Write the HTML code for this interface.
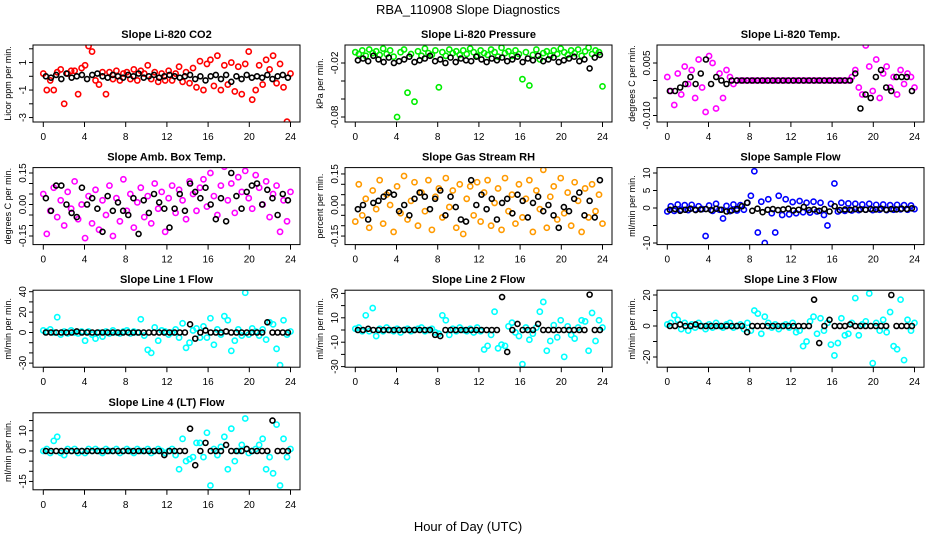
<!DOCTYPE html>
<html><head><meta charset="utf-8"><style>
html,body{margin:0;padding:0;background:#fff}
svg{display:block;font-family:"Liberation Sans",sans-serif}
</style></head><body>
<svg id="chart" width="936" height="540" xmlns="http://www.w3.org/2000/svg">
<rect width="936" height="540" fill="#fff"/>
<text x="468" y="14" font-size="13" text-anchor="middle">RBA_110908  Slope Diagnostics</text>
<text x="468" y="531" font-size="13" text-anchor="middle">Hour of Day (UTC)</text>
</svg>
<script>
const xTicks = [0,4,8,12,16,20,24];
const co2Vals = [0.2,-1.0,-0.3,-1.0,0.3,0.5,-2.0,0.2,0.4,0.4,-1.3,0.6,0.8,2.2,1.8,-0.3,-0.6,0.3,-1.3,0.3,-0.2,0.4,-0.3,0.2,0.3,-0.2,0.5,-0.3,0.4,0.2,0.8,-0.2,0.3,-0.4,0.2,-0.3,0.4,-0.3,0.2,0.7,-0.4,0.3,-0.5,0.6,-0.8,1.1,-1.0,0.9,1.2,-0.7,1.5,-1.0,0.8,-0.6,1.0,-1.1,0.7,-1.3,0.9,1.8,-1.7,-1.0,0.8,-0.6,1.2,0.5,1.5,-0.5,0.9,-0.8,-3.3,0.2];
const co2Black = [0,-0.1,0.1,-0.2,0.2,-0.1,0.0,0.1,-0.2,0.1,0.2,0.0,-0.1,0.1,0.0,-0.1,0.1,0.0,0.2,-0.1,0.0,0.1,-0.1,0.0,0.1,0.0,-0.1,0.0,0.1,-0.2,0.0,-0.3,0.0,0.1,-0.2,0.1,-0.4,0.0,-0.2,0.1,-0.1,0.0,-0.1,0.1,-0.2,0.0,0.1,-0.1];
const presVals = [-0.008,-0.01,-0.006,-0.012,-0.005,-0.009,-0.007,-0.011,-0.004,-0.01,-0.006,-0.013,-0.08,-0.008,-0.005,-0.053,-0.01,-0.063,-0.007,-0.012,-0.004,-0.009,-0.011,-0.006,-0.047,-0.008,-0.012,-0.005,-0.009,-0.007,-0.011,-0.006,-0.01,-0.004,-0.008,-0.012,-0.006,-0.009,-0.011,-0.005,-0.008,-0.013,-0.003,-0.009,-0.007,-0.012,-0.006,-0.01,-0.038,-0.008,-0.045,-0.011,-0.005,-0.016,-0.009,-0.007,-0.012,-0.006,-0.01,-0.004,-0.008,-0.011,-0.006,-0.009,-0.005,-0.012,-0.007,-0.003,-0.01,-0.006,-0.008,-0.046];
const presBlack = [-0.017,-0.015,-0.018,-0.012,-0.016,-0.019,-0.014,-0.02,-0.018,-0.016,-0.013,-0.019,-0.017,-0.015,-0.012,-0.018,-0.016,-0.02,-0.014,-0.019,-0.015,-0.017,-0.018,-0.013,-0.016,-0.019,-0.015,-0.017,-0.014,-0.018,-0.016,-0.013,-0.019,-0.015,-0.017,-0.012,-0.018,-0.016,-0.014,-0.019,-0.017,-0.015,-0.013,-0.018,-0.016,-0.026,-0.014,-0.011];
const tempVals = [0.001,-0.003,-0.007,0.002,-0.004,0.004,-0.001,0.003,-0.005,0.006,-0.002,-0.009,0.007,0.005,-0.008,0.002,-0.005,0.003,0.001,-0.001,0,0,0,0,0,0,0,0,0,0,0,0,0,0,0,0,0,0,0,0,0,0,0,0,0,0,0,0,0,0,0,0,0,0.001,0.003,-0.002,-0.004,0.01,0.004,-0.003,0.006,-0.005,0.002,0.004,-0.002,0.001,-0.004,0.003,-0.001,0.002,0.001,-0.002];
const tempBlack = [-0.003,-0.003,-0.002,-0.001,0.001,-0.001,0.002,0.006,-0.001,0.001,0,-0.001,0,0,0,0,0,0,0,0,0,0,0,0,0,0,0,0,0,0,0,0,0,0,0,0,0.002,-0.008,-0.004,-0.005,0.001,0.003,-0.002,-0.003,0.001,0.001,0.001,-0.003];
const boxVals = [0.05,-0.14,-0.03,0.08,-0.06,0.02,-0.1,0.06,-0.02,0.11,-0.07,0.0,-0.16,0.04,-0.09,0.07,-0.12,0.02,-0.05,0.09,-0.15,0.03,-0.08,0.12,-0.03,0.05,-0.11,0.01,0.08,-0.06,0.04,-0.09,0.1,-0.02,0.06,-0.13,0.03,0.09,-0.04,0.07,0.02,-0.07,0.11,0.05,-0.03,0.08,0.12,-0.01,0.15,0.04,-0.05,0.09,0.18,0.02,0.1,-0.04,0.13,0.06,0.16,0.03,-0.02,0.14,0.08,0.0,0.11,-0.06,0.05,0.09,-0.13,0.02,-0.08,0.06];
const boxBlack = [0.03,-0.03,0.09,0.09,0.0,-0.04,-0.06,0.08,0.0,0.03,-0.02,-0.13,0.04,-0.03,0.01,-0.03,-0.05,0.03,-0.14,0.02,-0.04,0.05,0.01,-0.02,-0.11,-0.02,0.05,-0.03,0.1,0.06,0.03,0.08,0.0,-0.07,0.03,-0.08,0.15,0.04,-0.02,0.06,0.09,0.1,0.0,0.07,0.03,-0.05,0.05,0.02];
const rhVals = [-0.08,0.1,-0.05,0.03,-0.11,0.07,-0.02,0.12,-0.09,0.05,0.0,-0.13,0.09,-0.04,0.14,-0.07,0.02,0.11,-0.1,0.06,-0.03,0.12,-0.12,0.04,0.08,-0.06,0.13,-0.01,0.07,-0.11,0.1,-0.14,0.03,0.09,-0.05,0.11,-0.08,0.06,0.12,-0.1,0.01,0.08,-0.12,0.13,-0.03,0.05,-0.09,0.1,-0.06,0.03,0.12,-0.13,0.07,-0.02,0.17,-0.11,0.04,0.09,-0.07,0.13,-0.04,0.06,-0.1,0.11,0.02,-0.13,0.08,-0.06,0.1,-0.03,0.05,-0.09];
const rhBlack = [-0.02,0.0,-0.07,0.01,0.02,0.04,0.06,0.05,-0.03,0.0,-0.05,0.03,0.06,0.04,-0.02,0.03,0.07,-0.05,0.04,-0.01,-0.07,-0.08,0.12,0.0,0.05,-0.02,0.03,-0.07,0.01,0.03,-0.04,0.05,0.02,-0.06,0.01,0.04,-0.03,0.0,-0.05,-0.11,-0.01,-0.03,0.03,0.06,-0.05,0.02,-0.06,0.12];
const flowVals = [-1,0.5,-0.8,1,-0.5,0.8,-0.6,0.9,-0.4,0.5,-0.3,-8,0.7,-0.8,1.2,-0.5,-3,0.6,-0.9,1,-0.7,0.8,-0.5,1.5,3.5,10.5,-7,1.8,-10,2.5,-1.5,-7,3.5,-2,2.5,-1.8,1.7,-1.5,2,-1.2,1.5,-1.3,1.8,-1,1.5,-2,-5,1.2,7,-1,1.5,-0.8,1.3,-0.7,1.2,-0.6,1,-0.5,1.2,-0.6,0.9,-0.5,1,-0.6,0.8,-0.5,0.9,-0.4,0.8,-0.5,0.7,-0.3];
const flowBlack = [-0.5,-0.3,-0.8,-0.5,-0.2,-0.6,-0.4,-0.3,-0.6,-0.2,-0.5,-1,-0.7,-0.3,0.5,1.5,-0.8,-0.2,-1.2,-0.5,-0.3,-0.6,-0.4,-0.2,-0.7,-0.5,0.3,-0.6,-0.4,-0.8,-0.3,-1,0.5,-0.6,-0.4,-0.5,-0.3,-0.4,-0.5,-0.3,-0.4,-0.2,-0.5,-0.3,-0.4,-0.2,-0.3,-0.1];
const line1Vals = [2,1,3,0,15,-2,1,-1,2,0,-1,1,-8,1,-2,-6,0,-4,1,-1,2,0,-1,1,2,-1,1,0,13,-3,-17,-20,5,-8,2,1,-2,0,3,-5,9,-15,-10,2,4,-5,6,-5,14,-12,3,-2,16,12,-18,-8,3,-3,39,-2,4,1,-3,3,-7,10,8,-16,-32,12,-2,1];
const line1Black = [0,0,0,0,0,0,1,0,0,0,0,0,0,0,0,0,0,0,0,0,0,0,0,0,0,0,0,0,8,-6,0,2,0,0,0,1,0,0,0,0,0,0,0,10,0,0,0,0];
const line2Vals = [1,2,-1,12,-1,18,-5,1,-1,2,0,-1,1,-2,0,1,-1,0,1,2,-1,0,1,-2,-3,12,8,-4,1,-1,2,0,-1,1,-2,2,-1,-16,-13,-4,15,-15,-12,-13,3,6,-2,-5,-28,2,-8,-3,2,15,23,-17,-9,4,-6,8,-22,3,-4,-7,2,8,7,-17,14,-9,8,2];
const line2Black = [0,0,1,0,0,0,0,0,0,0,0,0,0,0,0,-4,-5,0,0,0,0,0,0,0,0,0,0,0,27,-18,0,5,0,0,0,5,0,0,0,0,0,0,0,0,0,29,0,0];
const line3Vals = [1,2,7,4,-2,2,-3,1,-1,2,0,-2,1,-1,2,0,-1,1,2,-1,0,1,-2,2,-3,10,8,-5,6,2,-1,1,-2,0,1,-1,2,-4,-3,-13,-10,3,6,-5,5,-3,2,-12,-19,-11,5,-6,-5,2,18,-6,1,3,21,-24,2,-3,4,-4,9,-13,-15,17,-22,4,-3,2];
const line3Black = [0,0,1,0,0,1,0,0,0,0,0,0,0,0,0,-4,0,0,0,0,0,0,0,0,0,0,0,0,17,-11,0,4,0,0,0,1,0,0,0,0,0,0,0,20,0,0,0,0];
const line4Vals = [0,1,-1,5,7,-1,-2,1,0,1,-1,0,-1,1,0,1,0,-1,1,0,0,1,-1,0,1,0,-1,1,0,0,1,-1,0,1,0,-1,0,1,-2,-9,6,-5,-4,-3,4,4,-3,9,-17,1,-2,2,7,-9,11,-5,0,3,16,-1,0,1,3,6,-9,-3,-11,13,-17,6,-3,1];
const line4Black = [0,0,0,0,0,0,0,0,0,0,0,0,0,0,0,0,0,0,0,0,0,0,0,-2,0,0,0,0,11,-7,0,4,0,0,0,3,0,0,0,1,0,0,0,0,15,0,0,0];

const NS = "http://www.w3.org/2000/svg";
const svg = document.getElementById('chart');
function mk(tag, attrs, parent){const e=document.createElementNS(NS,tag);for(const k in attrs)e.setAttribute(k,attrs[k]);(parent||svg).appendChild(e);return e;}

const panels = [
 {c:0,r:0,title:"Slope Li-820 CO2",ylab:"Licor ppm per min.",z:76.3,s:13.75,ticks:[-3,-2,-1,0,1,2],labs:[-3,-1,1],fmt:0,col:"#ff0000",vals:co2Vals,blk:co2Black},
 {c:1,r:0,title:"Slope Li-820 Pressure",ylab:"kPa per min.",z:45,s:900,ticks:[-0.08,-0.06,-0.04,-0.02],labs:[-0.08,-0.02],fmt:2,col:"#00ee00",vals:presVals,blk:presBlack},
 {c:2,r:0,title:"Slope Li-820 Temp.",ylab:"degrees C per min.",z:80.5,s:3500,ticks:[-0.01,-0.005,0,0.005],labs:[-0.01,0.005],fmt:3,col:"#ff00ff",vals:tempVals,blk:tempBlack},
 {c:0,r:1,title:"Slope Amb. Box Temp.",ylab:"degrees C per min.",z:204.5,s:210,ticks:[-0.15,-0.1,-0.05,0,0.05,0.1,0.15],labs:[-0.15,0,0.15],fmt:2,col:"#ff00ff",vals:boxVals,blk:boxBlack},
 {c:1,r:1,title:"Slope Gas Stream RH",ylab:"percent per min.",z:205,s:207,ticks:[-0.15,-0.1,-0.05,0,0.05,0.1,0.15],labs:[-0.15,0,0.15],fmt:2,col:"#ff9a00",vals:rhVals,blk:rhBlack},
 {c:2,r:1,title:"Slope Sample Flow",ylab:"ml/min per min.",z:208,s:3.5,ticks:[-10,-5,0,5,10],labs:[-10,0,5,10],fmt:0,col:"#0000ff",vals:flowVals,blk:flowBlack},
 {c:0,r:2,title:"Slope Line 1 Flow",ylab:"ml/min per min.",z:332.5,s:1.02,ticks:[-30,-20,-10,0,10,20,30,40],labs:[-30,0,20,40],fmt:0,col:"#00ffff",vals:line1Vals,blk:line1Black},
 {c:1,r:2,title:"Slope Line 2 Flow",ylab:"ml/min per min.",z:330,s:1.22,ticks:[-30,-20,-10,0,10,20,30],labs:[-30,-10,10,30],fmt:0,col:"#00ffff",vals:line2Vals,blk:line2Black},
 {c:2,r:2,title:"Slope Line 3 Flow",ylab:"ml/min per min.",z:326,s:1.55,ticks:[-20,-10,0,10,20],labs:[-20,0,20],fmt:0,col:"#00ffff",vals:line3Vals,blk:line3Black},
 {c:0,r:3,title:"Slope Line 4 (LT) Flow",ylab:"ml/min per min.",z:451,s:2.03,ticks:[-15,-10,-5,0,5,10,15],labs:[-15,0,10],fmt:0,col:"#00ffff",vals:line4Vals,blk:line4Black}
];

panels.forEach((p,pi)=>{
  const L=33+312*p.c, R=300+312*p.c, T=45+122.6*p.r, B=T+77;
  const xs=h=>43.3+312*p.c+h*10.3;
  const ys=v=>p.z - v*p.s;
  const g=mk('g',{});
  
  
  const t=mk('text',{x:(L+R)/2,y:T-7,'font-size':11,'font-weight':'bold','text-anchor':'middle'},g);
  t.textContent=p.title;
  
  
  const yl=mk('text',{x:0,y:0,'font-size':9,'text-anchor':'middle',transform:`translate(${L-22},${(T+B)/2}) rotate(-90)`},g);
  yl.textContent=p.ylab;
  
  
  const cid='clip'+pi;
  const cp=mk('clipPath',{id:cid},g);
  mk('rect',{x:L,y:T,width:R-L,height:B-T},cp);
  const pts=mk('g',{'clip-path':`url(#${cid})`,fill:'none','stroke-width':1.6},g);
  
  
  p.vals.forEach((v,i)=>{
    const c=mk('circle',{cx:xs(24*i/(p.vals.length-1)),cy:ys(v),r:2.6,stroke:p.col},pts);
    
    
  });
  p.blk.forEach((v,i)=>{
    const c=mk('circle',{cx:xs(24*(i+0.5)/p.blk.length),cy:ys(v),r:2.5,stroke:'#000'},pts);
    
    
  });
  const fr=mk('rect',{x:L,y:T,width:R-L,height:B-T,fill:'none',stroke:'#000','stroke-width':1},g);
  
  
  mk('line',{x1:xs(0),x2:xs(24),y1:B,y2:B,stroke:'#000'},g);
  xTicks.forEach(h=>{
    mk('line',{x1:xs(h),x2:xs(h),y1:B,y2:B+5,stroke:'#000'},g);
    const tl=mk('text',{x:xs(h),y:B+18,'font-size':10,'text-anchor':'middle'},g);
    tl.textContent=h;
    
    
  });
  p.ticks.forEach(v=>{
    const y=ys(v); if(y<T-1||y>B+1) return;
    mk('line',{x1:L-4,x2:L,y1:y,y2:y,stroke:'#000'},g);
  });
  p.labs.forEach(v=>{
    const tl=mk('text',{x:0,y:0,'font-size':10,'text-anchor':'middle',transform:`translate(${L-7},${ys(v)}) rotate(-90)`},g);
    tl.textContent=p.fmt?v.toFixed(p.fmt):String(v);
    
    
  });
});
</script>
</body></html>
